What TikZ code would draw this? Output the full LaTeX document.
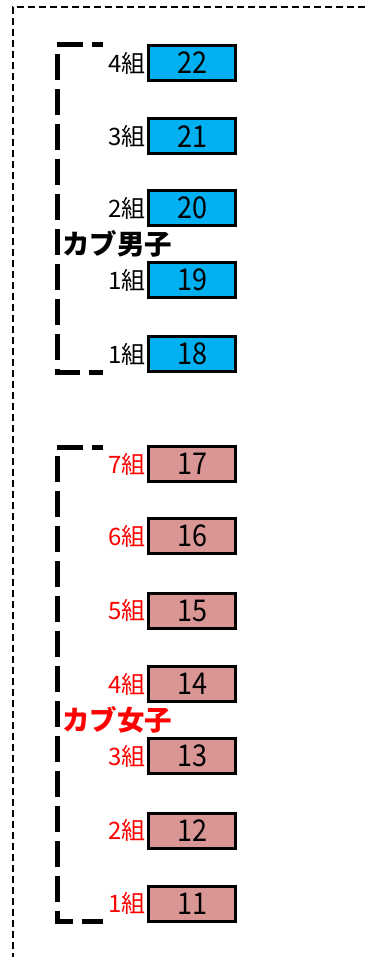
\documentclass[tikz,border=0pt]{standalone}
\usepackage{fontspec}
\newfontfamily\jp{Noto Sans CJK JP}
\newfontfamily\jpnum[FakeStretch=0.9]{Noto Sans CJK JP}
\definecolor{cubblue}{HTML}{00B0F0}
\definecolor{cubpink}{HTML}{DA9694}
\definecolor{cubred}{HTML}{FF0000}
\tikzset{
  box/.style={draw, line width=3pt, minimum width=87pt, minimum height=35pt, inner sep=0pt,
    font=\jpnum\fontsize{30}{30}\selectfont},
  bluebox/.style={box, fill=cubblue},
  pinkbox/.style={box, fill=cubpink},
  lbl/.style={anchor=east, inner sep=0pt, font=\jp\fontsize{24}{24}\selectfont},
  redlbl/.style={lbl, text=cubred},
  title/.style={anchor=west, inner sep=0pt, font=\jp\bfseries\fontsize{27.5}{28}\selectfont},
  bracket/.style={line width=5pt, dash pattern=on 26pt off 9pt, dash phase=15pt},
  border/.style={line width=1.5pt, dash pattern=on 7pt off 4pt}
}
\begin{document}
\begin{tikzpicture}[x=1pt,y=-1pt]
\useasboundingbox (0,0) rectangle (365,957);
\coordinate (bt) at (365,7);
\coordinate (bc) at (13,7);
\coordinate (bb) at (13,957);
\draw[border] (bt) -- (bc) -- (bb);
% blue group
\foreach \n/\y/\g in {22/63/4,21/136.5/3,20/208/2,19/280/1,18/354/1}{
  \node[bluebox] (b\n) at (192,\y) {\n};
  \node[lbl] (l\n) at ([xshift=-1pt]b\n.west) {{\g}組};
}
% pink group
\foreach \n/\y/\g in {17/464/7,16/536/6,15/610.5/5,14/684/4,13/756/3,12/830.5/2,11/903.5/1}{
  \node[pinkbox] (b\n) at (192,\y) {\n};
  \node[redlbl] (l\n) at ([xshift=-1pt]b\n.west) {{\g}組};
}
\coordinate (u1) at (103,45);
\coordinate (u2) at (57,45);
\coordinate (u3) at (57,372);
\coordinate (u4) at (103,372);
\draw[bracket] (u1) -- (u2) -- (u3) -- (u4);
\coordinate (v1) at (103,447);
\coordinate (v2) at (57,447);
\coordinate (v3) at (57,921);
\coordinate (v4) at (103,921);
\draw[bracket] (v1) -- (v2) -- (v3) -- (v4);
\node[title] (boys) at (62,244) {カブ男子};
\node[title, text=cubred] (girls) at (62,720) {カブ女子};
\end{tikzpicture}
\end{document}
